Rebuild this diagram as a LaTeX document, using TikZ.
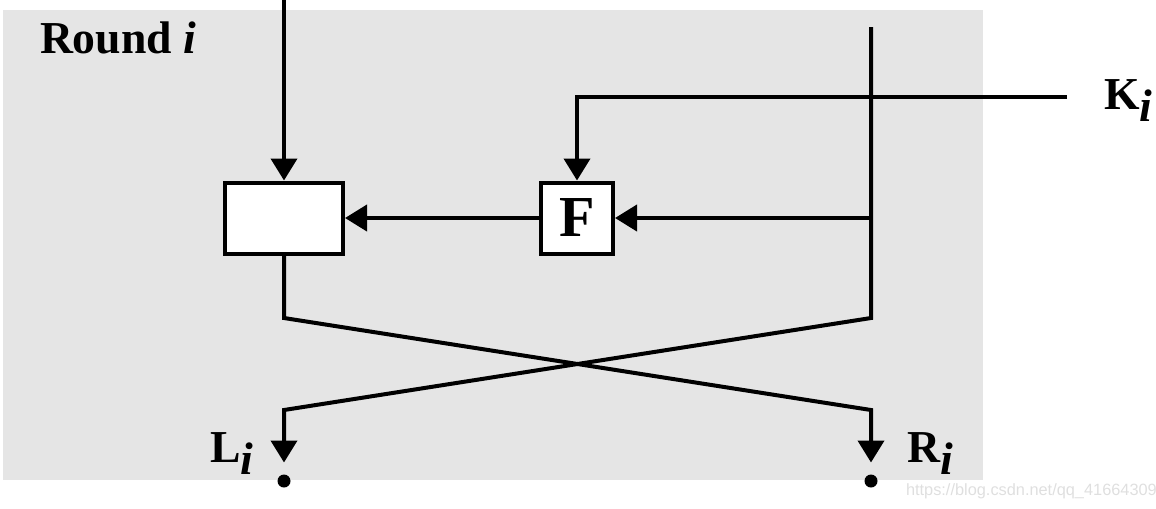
\documentclass[tikz,border=0pt]{standalone}
\usepackage{fontspec}
\setmainfont{Liberation Serif}
\newfontfamily\wmfont{Liberation Sans}
\usetikzlibrary{arrows.meta}
\newcommand{\subi}{\raisebox{-0.28em}{\textit{i}}}

\begin{document}
\begin{tikzpicture}[x=0.2mm, y=-0.2mm, line width=0.8mm, >={Triangle[length=4.4mm,width=5.2mm]},
    box/.style={draw, fill=white, line width=0.8mm, inner sep=0pt, minimum height=14.2mm},
    lbl/.style={font=\fontsize{26}{30}\selectfont\bfseries, inner sep=0pt},
    dot/.style={circle, fill, inner sep=0pt, minimum size=2.6mm}]
    \useasboundingbox (0,0) rectangle (1156,508);
    \fill[gray!20] (3,10) rectangle (983,480);
    % boxes
    \node[box, minimum width=23.6mm] (mix) at (284,218) {};
    \node[box, minimum width=14.4mm, font=\fontsize{33}{36}\selectfont\bfseries] (f) at (577,218) {F};
    % points on the lines
    \coordinate (lin) at (284,0);
    \coordinate (rin) at (871,27);
    \coordinate (kin) at (1067,97);
    \coordinate (rsplit) at (871,218);
    \coordinate (lbend) at (284,318);
    \coordinate (rbend) at (871,318);
    \coordinate (lcross) at (284,410);
    \coordinate (rcross) at (871,410);
    \node[dot] (lout) at (284,481) {};
    \node[dot] (rout) at (871,481) {};
    % lines
    \draw[->] (lin) -- (mix);
    \draw[->] (kin) -| (f);
    \draw[->] (rsplit) -- (f);
    \draw[->] (f) -- (mix);
    \draw[->, shorten >=2mm] (rin) -- (rbend) -- (lcross) -- (lout);
    \draw[->, shorten >=2mm] (mix.south) -- (lbend) -- (rcross) -- (rout);
    % labels
    \node[lbl, anchor=base west] (round) at (38,53) {Round \textit{i}};
    \node[lbl, anchor=base west] (ki) at (1102,109) {K\subi};
    \node[lbl, anchor=base west] (li) at (208,462) {L\subi};
    \node[lbl, anchor=base west] (ri) at (905,462) {R\subi};
    \node[font=\wmfont\fontsize{9.3}{11}\selectfont, text=gray!25, anchor=base west, inner sep=0pt] (mark) at (904,495) {https://blog.csdn.net/qq\_41664309};
\end{tikzpicture}
\end{document}
